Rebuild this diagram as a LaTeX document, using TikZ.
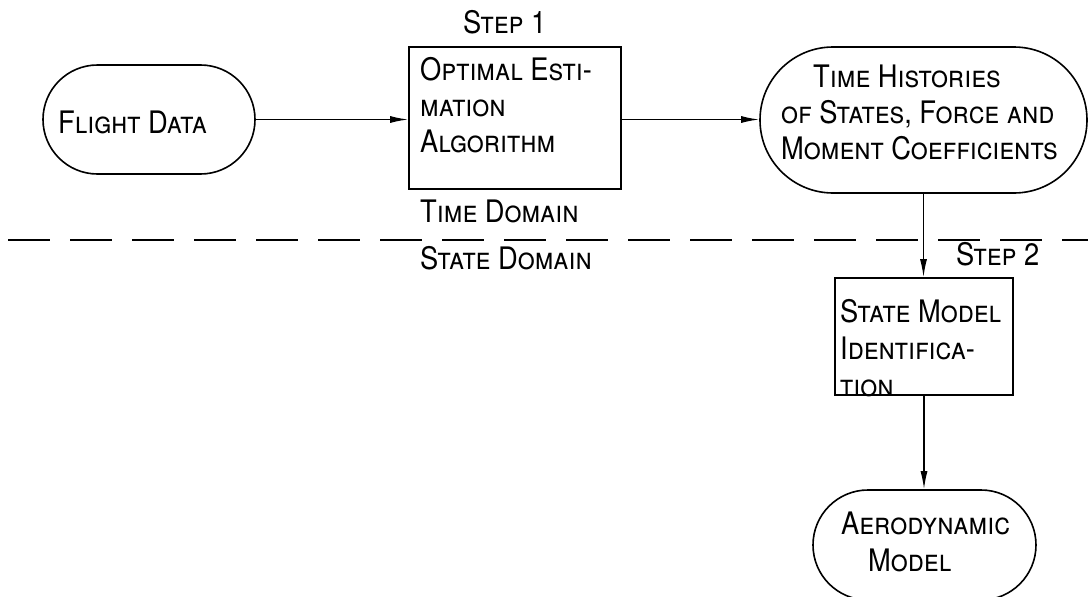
\documentclass[tikz,border=0pt]{standalone}
\usepackage{fontspec}
\setmainfont{TeX Gyre Heros}[FakeStretch=0.88]
\usetikzlibrary{arrows.meta,positioning,shapes.misc}

\tikzset{
  lettering/.style={font=\fontsize{31}{36}\selectfont\scshape, inner sep=0pt, align=left, anchor=base west},
  capsule/.style={draw, line width=1.6pt, rounded rectangle, inner sep=0pt},
  stepbox/.style={draw, line width=1.6pt, rectangle, inner sep=0pt},
  flow/.style={line width=1.4pt, -{Latex[length=18pt,width=7pt]}},
  divider/.style={line width=1.6pt, dash pattern=on 42pt off 20pt},
}

\begin{document}
\begin{tikzpicture}[x=1pt,y=-1pt]
  \useasboundingbox (0,0) rectangle (1088,597);
  % time domain row
  \node[capsule, minimum width=212pt, minimum height=109pt] (flight) at (149,119.5) {};
  \node[stepbox, minimum width=212pt, minimum height=142pt] (estim) at (515,118) {};
  \node[capsule, minimum width=327pt, minimum height=146pt] (hist) at (923.5,120) {};
  \node[lettering] (flighttxt) at (58,133) {Flight Data};
  \node[lettering] (step1) at (463,33) {Step 1};
  \node[lettering] (estimtxt) at (420,152) {Optimal Esti-\\mation\\Algorithm};
  \node[lettering] (histtxt) at (781,159) {\hspace*{32pt}Time Histories\\of States, Force and\\Moment Coefficients};
  % domain split
  \coordinate (divleft) at (8,240);
  \coordinate (divright) at (1088,240);
  \draw[divider] (divleft) -- (divright);
  \node[lettering] (timedom) at (420,222) {Time Domain};
  \node[lettering] (statedom) at (420,269) {State Domain};
  % state domain column
  \node[lettering] (step2) at (956,265) {Step 2};
  \node[stepbox, minimum width=178pt, minimum height=117pt] (ident) at (924,336.5) {};
  \node[lettering, font=\fontsize{31}{37}\selectfont\scshape] (identtxt) at (840,396) {State Model\\Identifica-\\tion};
  \node[capsule, minimum width=223pt, minimum height=110pt] (aero) at (924.5,545) {};
  \node[lettering, font=\fontsize{31}{37}\selectfont\scshape] (aerotxt) at (841,571) {Aerodynamic\\\hspace*{27pt}Model};
  % connectors
  \draw[flow] (flight.east) -- (flight.east -| estim.west);
  \draw[flow] (estim.east |- flight.east) -- (flight.east -| hist.west);
  \draw[flow] (hist.south) -- (hist.south |- ident.north);
  \draw[flow] (ident.south) -- (ident.south |- aero.north);
\end{tikzpicture}
\end{document}
